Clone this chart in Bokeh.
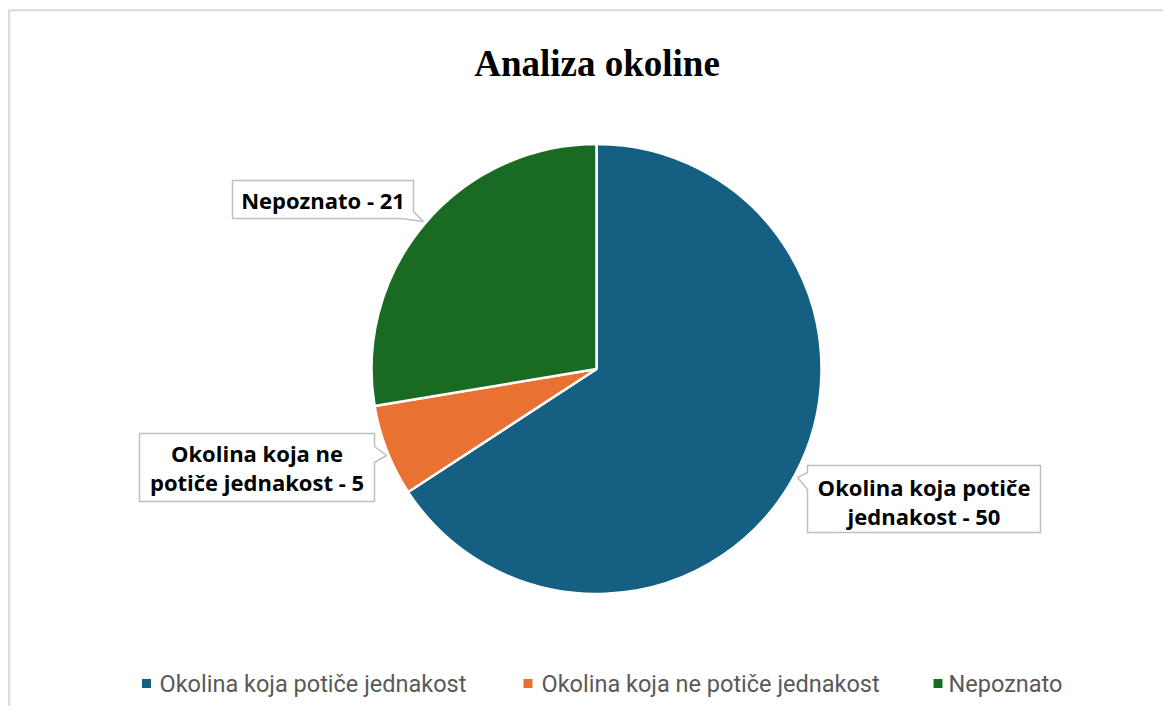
import numpy as np
from bokeh.plotting import figure
from bokeh.models import Range1d, ColumnDataSource
from bokeh.core.properties import value
from bokeh.embed import file_html
from bokeh.resources import INLINE

# ---- data ----
categories = ["Okolina koja potiče jednakost", "Okolina koja ne potiče jednakost", "Nepoznato"]
counts = [50, 5, 21]
colors = ["#156082", "#E97132", "#196B24"]
label_lines = [["Okolina koja potiče", "jednakost - 50"],
               ["Okolina koja ne", "potiče jednakost - 5"],
               ["Nepoznato - 21"]]
title_text = "Analiza okoline"

# ---- layout (screen px -> data) ----
W, H = 1163, 706
def X(sx): return sx
def Y(sy): return H - sy

p = figure(width=W, height=H, x_range=Range1d(0, W), y_range=Range1d(0, H),
           output_backend="svg", toolbar_location=None, min_border=0)
p.axis.visible = False
p.grid.visible = False
p.outline_line_color = None
p.background_fill_color = "white"
p.border_fill_color = "white"

# chart frame (left and top edges visible)
p.line([X(8.7), X(8.7), X(1171)], [Y(714), Y(9.7), Y(9.7)], line_color="#D9D9D9", line_width=2)

# title
p.text(x=[X(596.5)], y=[Y(63)], text=[title_text], text_align="center", text_baseline="alphabetic",
       text_font=value("Liberation Serif"), text_font_style="bold", text_font_size="37px", text_color="#000000")

# pie
total = float(sum(counts))
cum = np.concatenate([[0.0], np.cumsum(counts)])
start = [np.pi / 2 - cum[i + 1] / total * 2 * np.pi for i in range(len(counts))]
end = [np.pi / 2 - cum[i] / total * 2 * np.pi for i in range(len(counts))]
src = ColumnDataSource(dict(start=start, end=end, color=colors, cat=categories, val=counts))
p.wedge(x=X(596), y=Y(368.5), radius=225, start_angle="start", end_angle="end",
        fill_color="color", line_color="white", line_width=2.5, source=src)

# callouts (screen coordinates of boxes with pointers)
callouts = [
    [(807, 465), (1040, 465), (1040, 532), (807, 532), (807, 489), (797, 477), (807, 472)],
    [(139, 433), (374, 433), (374, 446), (386, 455), (374, 462), (374, 501), (139, 501)],
    [(232, 180), (413, 180), (413, 211), (423, 221), (400, 218), (232, 218)],
]
label_pos = [(923.5, [486, 515]), (256.5, [452, 481]), (322.5, [199])]
for poly, (cx, ys), lines in zip(callouts, label_pos, label_lines):
    p.patch([X(a) for a, b in poly], [Y(b) for a, b in poly], fill_color="white",
            line_color="#BFBFBF", line_width=1.5)
    p.text(x=[X(cx)] * len(lines), y=[Y(v) for v in ys], text=lines, text_align="center",
           text_baseline="middle", text_font=value("Open Sans"), text_font_style="bold",
           text_font_size="22px", text_color="#000000")

# legend
sq_x = [146, 527.5, 937.5]
tx_x = [159, 541, 948]
ly = 683
p.scatter(x=[X(v) for v in sq_x], y=[Y(ly)] * 3, marker="square", size=9, fill_color=colors, line_color=None)
p.text(x=[X(v) for v in tx_x], y=[Y(ly)] * 3, text=categories, text_align="left", text_baseline="middle",
       text_font=value("Roboto"), text_font_size="23.5px", text_color="#595959")

open("out.html", "w").write(file_html(p, INLINE))
